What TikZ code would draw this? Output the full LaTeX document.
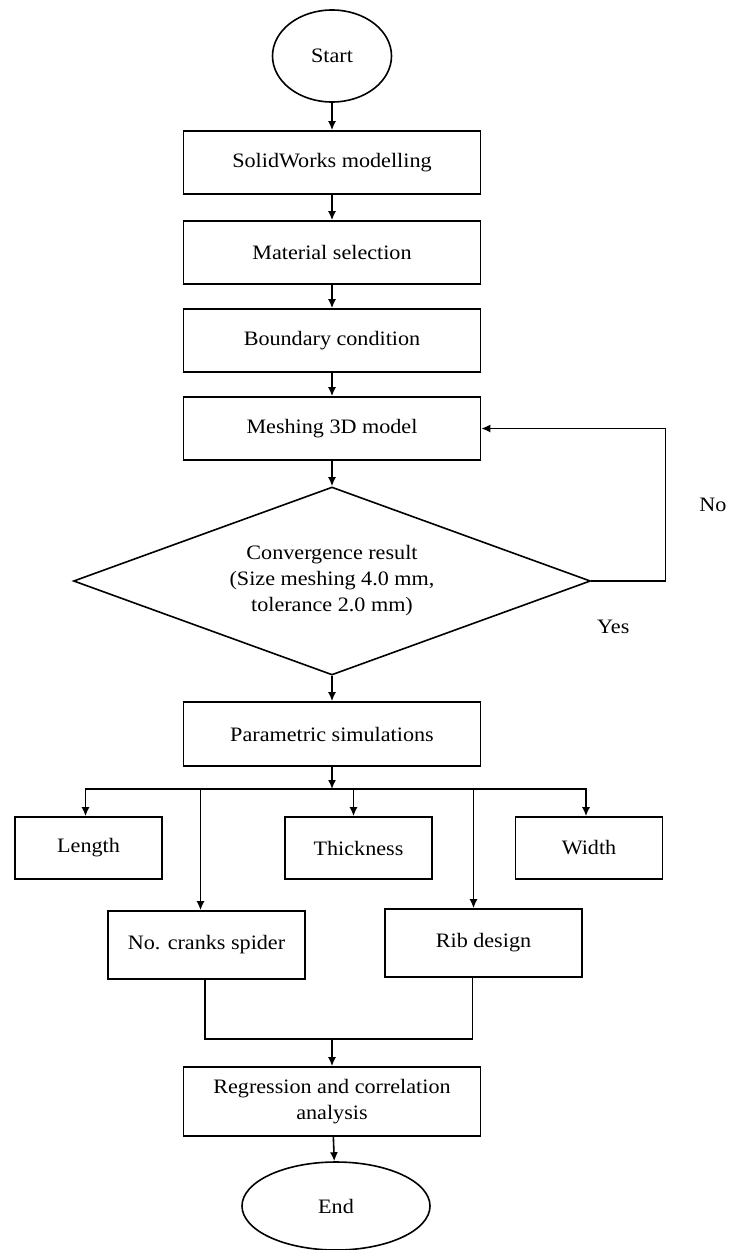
\documentclass[tikz,border=0pt]{standalone}
\usepackage{fontspec}
\setmainfont{Liberation Serif}[FakeStretch=1.08]
\usepackage{tikz}
\usetikzlibrary{shapes.geometric,arrows.meta}
\tikzstyle{block} = [draw, rectangle, align=center, inner sep=0pt,
    minimum height=63pt, minimum width=297pt]
\tikzstyle{smallblock} = [block, minimum height=62pt, minimum width=147pt]
\tikzstyle{midblock} = [block, minimum height=68pt, minimum width=197pt]
\tikzstyle{terminal} = [draw, ellipse, inner sep=0pt]
\tikzstyle{decision} = [draw, diamond, aspect=2.75, align=center, inner sep=0pt,
    minimum width=517pt, minimum height=188pt]
\tikzstyle{split} = [coordinate]

\begin{document}
\begin{tikzpicture}[x=1pt, y=-1pt, line width=1.6pt,
    >={Latex[length=9pt,width=8pt]},
    font=\fontsize{20.5}{26}\selectfont]
    \useasboundingbox (0,0) rectangle (731,1250);

    % We start by placing the main column
    \node [terminal, minimum width=119pt, minimum height=92pt] (start) at (332,56) {Start};
    \node [block, below of=start, node distance=106.5pt] (model) {SolidWorks modelling};
    \node [block, below of=model, node distance=90pt] (material) {Material selection};
    \node [block, below of=material, node distance=88pt] (boundary) {Boundary condition};
    \node [block, below of=boundary, node distance=88pt] (mesh) {Meshing 3D model};
    \node [decision, below of=mesh, node distance=152.5pt] (conv)
        {Convergence result\\ (Size meshing 4.0 mm,\\ tolerance 2.0 mm)};
    \node [block, below of=conv, node distance=153pt, minimum height=64pt] (param)
        {Parametric simulations};
    \node [split, below of=param, node distance=55pt] (fork) {};

    % The parameters hang below the simulations block
    \node [smallblock, below of=param, node distance=114pt, xshift=-243.5pt] (length) {Length};
    \node [smallblock, right of=length, node distance=270pt] (thickness) {Thickness};
    \node [smallblock, right of=thickness, node distance=230.5pt] (width) {Width};
    \node [midblock, below of=length, node distance=97pt, xshift=118pt] (cranks) {No. cranks spider};
    \node [midblock, right of=cranks, node distance=277pt, yshift=2pt] (rib) {Rib design};

    % Analysis and end
    \node [block, below of=param, node distance=367.5pt, minimum height=69pt] (regr)
        {Regression and correlation\\ analysis};
    \node [split, above of=regr, node distance=62.5pt] (merge) {};
    \node [terminal, below of=regr, node distance=104.5pt, xshift=4pt,
        minimum width=188pt, minimum height=88pt] (end) {End};

    % Once the nodes are placed, connecting them is easy.
    \draw [->] (start) -- (model);
    \draw [->] (model) -- (material);
    \draw [->] (material) -- (boundary);
    \draw [->] (boundary) -- (mesh);
    \draw [->] (mesh) -- (conv);
    \draw [->] (conv.east) -- ++(74,0) |- node [pos=0.25, right=30pt] {No} (mesh.east);
    \node at ([xshift=22pt, yshift=-46pt]conv.east) (yes) {Yes};
    \draw [->] (conv) -- (param);
    \draw [->] (param) -- (fork);
    \draw [->] (fork) -| ([xshift=-3pt]length.north);
    \draw [->] (fork) -| ([xshift=-5pt]thickness.north);
    \draw [->] (fork) -| ([xshift=-3pt]width.north);
    \draw [->] ([xshift=-6pt]cranks.north |- fork) -- ([xshift=-6pt]cranks.north);
    \draw [->] ([xshift=-10pt]rib.north |- fork) -- ([xshift=-10pt]rib.north);
    \draw ([xshift=-1.5pt]cranks.south) |- (merge) -| ([xshift=-11pt]rib.south);
    \draw [->] (merge) -- (regr);
    \draw [->] (regr) -- (end);

\end{tikzpicture}
\end{document}
